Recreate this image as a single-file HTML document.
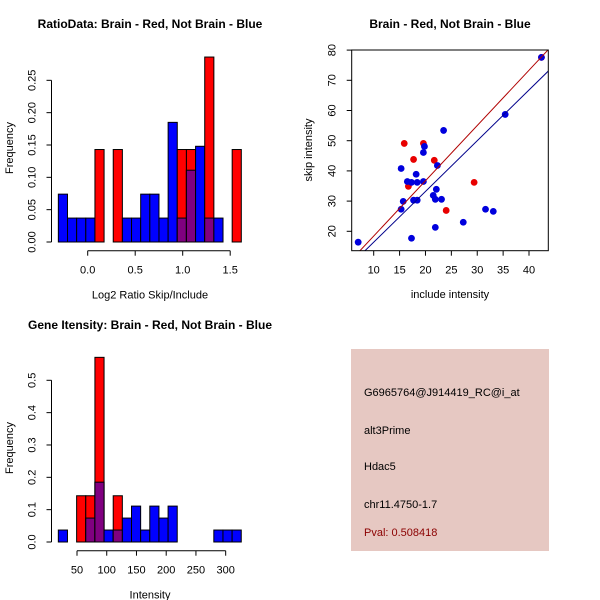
<!DOCTYPE html>
<html><head><meta charset="utf-8"><style>
html,body{margin:0;padding:0;background:#fff;}
svg{display:block;font-family:"Liberation Sans",sans-serif;}
</style></head><body>
<svg id="c" width="600" height="600" viewBox="0 0 600 600">
<rect width="600" height="600" fill="#fff"/>
<g id="p1"></g>
<g id="p2"></g>
<g id="p3"></g>
<g id="p4">
<rect x="351" y="349" width="198" height="202" fill="#E6C8C2"/>
<text x="364" y="396" font-size="11" fill="#000">G6965764@J914419_RC@i_at</text>
<text x="364" y="434" font-size="11" fill="#000">alt3Prime</text>
<text x="364" y="470" font-size="11" fill="#000">Hdac5</text>
<text x="364" y="508" font-size="11" fill="#000">chr11.4750-1.7</text>
<text x="364" y="536" font-size="11" fill="#8B0000">Pval: 0.508418</text>
</g>
</svg>
<script>
// ---- Plot 1 data: ratio histogram ----
const ratioBinStart = -0.309;
const ratioBinWidth = 0.0963;
const ratioBlue = [0.074,0.037,0.037,0.037,0,0,0,0.037,0.037,0.074,0.074,0.037,0.185,0.037,0.111,0.148,0.037,0.037,0,0];
const ratioRed  = [0,0,0,0,0.143,0,0.143,0,0,0,0,0,0,0.143,0.143,0,0.286,0,0,0.143];
const ratioXTicks = [0.0,0.5,1.0,1.5];
const ratioXTickLabels = ["0.0","0.5","1.0","1.5"];
const ratioYTicks = [0,0.05,0.10,0.15,0.20,0.25];
const ratioYTickLabels = ["0.00","0.05","0.10","0.15","0.20","0.25"];
// ---- Plot 2 data: scatter ----
const blueX = [7.0,15.3,15.7,15.3,16.5,17.3,17.3,17.7,18.2,18.4,18.4,19.6,19.8,19.6,21.5,21.9,22.1,21.9,22.3,23.1,23.5,27.3,31.6,33.1,35.4,42.4];
const blueY = [16.4,27.3,29.9,40.8,36.5,36.2,17.7,30.3,38.9,36.2,30.3,46.1,48.1,36.5,31.9,30.6,33.9,21.3,41.8,30.6,53.4,23.0,27.3,26.6,58.7,77.6];
const redX = [15.9,17.7,16.7,19.6,21.7,24.0,29.4,42.4];
const redY = [49.1,43.8,34.9,49.1,43.5,26.9,36.2,77.6];
const redFit = [0.13,1.83];   // intercept, slope
const blueFit = [-0.4,1.68];
const scatXTicks = [10,15,20,25,30,35,40];
const scatYTicks = [20,30,40,50,60,70,80];
// ---- Plot 3 data: gene intensity histogram ----
const geneBinStart = 18.6;
const geneBinWidth = 15.38;
const geneBlue = [0.037,0,0,0.074,0.185,0.037,0.037,0.074,0.111,0.037,0.111,0.074,0.111,0,0,0,0,0.037,0.037,0.037];
const geneRed  = [0,0,0.143,0.143,0.571,0,0.143,0,0,0,0,0,0,0,0,0,0,0,0,0];
const geneXTicks = [50,100,150,200,250,300];
const geneYTicks = [0,0.1,0.2,0.3,0.4,0.5];
const geneYTickLabels = ["0.0","0.1","0.2","0.3","0.4","0.5"];

const NS="http://www.w3.org/2000/svg";
function mk(parent,tag,attrs,text){const e=document.createElementNS(NS,tag);for(const k in attrs)e.setAttribute(k,attrs[k]);if(text!==undefined)e.textContent=text;parent.appendChild(e);return e;}

function histogram(g,o){
  const sx=v=>o.x0+(v-o.xv0)*o.xs, sy=v=>o.base-v*o.ys;
  const n=o.blue.length;
  for(let i=0;i<n;i++){
    const a=o.start+i*o.width,b=a+o.width;
    const x1=sx(a),x2=sx(b),w=x2-x1;
    const bv=o.blue[i],rv=o.red[i];
    if(bv>0){const r=mk(g,'rect',{x:x1,y:sy(bv),width:w,height:sy(0)-sy(bv),fill:'#0000FF',stroke:'#000','stroke-width':1});
      
      }
    if(rv>0){const r=mk(g,'rect',{x:x1,y:sy(rv),width:w,height:sy(0)-sy(rv),fill:'#FF0000',stroke:'#000','stroke-width':1});
      
      }
    const m=Math.min(bv,rv);
    if(m>0){const r=mk(g,'rect',{x:x1,y:sy(m),width:w,height:sy(0)-sy(m),fill:'#800080',stroke:'#000','stroke-width':1});
      
      }
  }
  const yt=o.yTicks;
  const ya=mk(g,'line',{x1:o.axX,x2:o.axX,y1:sy(yt[0]),y2:sy(yt[yt.length-1]),stroke:'#000'});
  
  
  yt.forEach((v,i)=>{mk(g,'line',{x1:o.axX-5,x2:o.axX,y1:sy(v),y2:sy(v),stroke:'#000'});
    const t=mk(g,'text',{x:0,y:0,'font-size':11,'text-anchor':'middle',transform:`translate(${o.axX-16},${sy(v)}) rotate(-90)`},o.yLabels[i]);
    
    });
  const xt=o.xTicks;
  const xa=mk(g,'line',{x1:sx(xt[0]),x2:sx(xt[xt.length-1]),y1:o.axY,y2:o.axY,stroke:'#000'});
  
  
  xt.forEach((v,i)=>{mk(g,'line',{x1:sx(v),x2:sx(v),y1:o.axY,y2:o.axY+5,stroke:'#000'});
    const t=mk(g,'text',{x:sx(v),y:o.axY+23,'font-size':11,'text-anchor':'middle'},o.xLabels[i]);
    
    });
  const ti=mk(g,'text',{x:150,y:o.titleY,'font-size':12,'font-weight':'bold','text-anchor':'middle'},o.title);
  
  
  const xl=mk(g,'text',{x:150,y:o.axY+48,'font-size':11,'text-anchor':'middle'},o.xTitle);
  
  
  const yl=mk(g,'text',{x:0,y:0,'font-size':11,'text-anchor':'middle',transform:`translate(13,${o.base-94}) rotate(-90)`},'Frequency');
  
  
}

histogram(document.getElementById('p1'),{
  x0:87.7,xv0:0,xs:95,base:242,ys:646.7,axX:51.5,axY:250.7,
  start:ratioBinStart,width:ratioBinWidth,blue:ratioBlue,red:ratioRed,
  xTicks:ratioXTicks,xLabels:ratioXTickLabels,yTicks:ratioYTicks,yLabels:ratioYTickLabels,
  title:'RatioData: Brain - Red, Not Brain - Blue',titleY:28,xTitle:'Log2 Ratio Skip/Include'});

histogram(document.getElementById('p3'),{
  x0:77,xv0:50,xs:0.5947,base:542,ys:323.4,axX:51.5,axY:550.7,
  start:geneBinStart,width:geneBinWidth,blue:geneBlue,red:geneRed,
  xTicks:geneXTicks,xLabels:geneXTicks.map(String),yTicks:geneYTicks,yLabels:geneYTickLabels,
  title:'Gene Itensity: Brain - Red, Not Brain - Blue',titleY:329,xTitle:'Intensity'});

(function(){
  const g=document.getElementById('p2');
  const L=351.7,R=548.3,T=50,B=250.7;
  const sx=v=>373.7+(v-10)*5.177, sy=v=>231.3-(v-20)*3.02;
  const cp=mk(g,'clipPath',{id:'clip2'});
  mk(cp,'rect',{x:L,y:T,width:R-L,height:B-T});
  const fit=(f,col,name)=>{const xa=0,xb=50;const l=mk(g,'line',{x1:sx(xa),y1:sy(f[0]+f[1]*xa),x2:sx(xb),y2:sy(f[0]+f[1]*xb),stroke:col,'stroke-width':1,'clip-path':'url(#clip2)'});
    
    };
  redX.forEach((x,i)=>{const c=mk(g,'circle',{cx:sx(x),cy:sy(redY[i]),r:3.4,fill:'#E80000'});
    
    });
  blueX.forEach((x,i)=>{const c=mk(g,'circle',{cx:sx(x),cy:sy(blueY[i]),r:3.4,fill:'#0000DD'});
    
    });
  fit(redFit,'#B00000','red-fit-line');
  fit(blueFit,'#00008B','blue-fit-line');
  const box=mk(g,'rect',{x:L,y:T,width:R-L,height:B-T,fill:'none',stroke:'#000'});
  
  
  scatXTicks.forEach(v=>{mk(g,'line',{x1:sx(v),x2:sx(v),y1:B,y2:B+5,stroke:'#000'});
    const t=mk(g,'text',{x:sx(v),y:B+23,'font-size':11,'text-anchor':'middle'},String(v));
    
    });
  scatYTicks.forEach(v=>{mk(g,'line',{x1:L-5,x2:L,y1:sy(v),y2:sy(v),stroke:'#000'});
    const t=mk(g,'text',{x:0,y:0,'font-size':11,'text-anchor':'middle',transform:`translate(${L-16},${sy(v)}) rotate(-90)`},String(v));
    
    });
  const ti=mk(g,'text',{x:450,y:28,'font-size':12,'font-weight':'bold','text-anchor':'middle'},'Brain - Red, Not Brain - Blue');
  
  
  const xl=mk(g,'text',{x:450,y:298,'font-size':11,'text-anchor':'middle'},'include intensity');
  
  
  const yl=mk(g,'text',{x:0,y:0,'font-size':11,'text-anchor':'middle',transform:`translate(312,150) rotate(-90)`},'skip intensity');
  
  
})();
</script>
</body></html>
